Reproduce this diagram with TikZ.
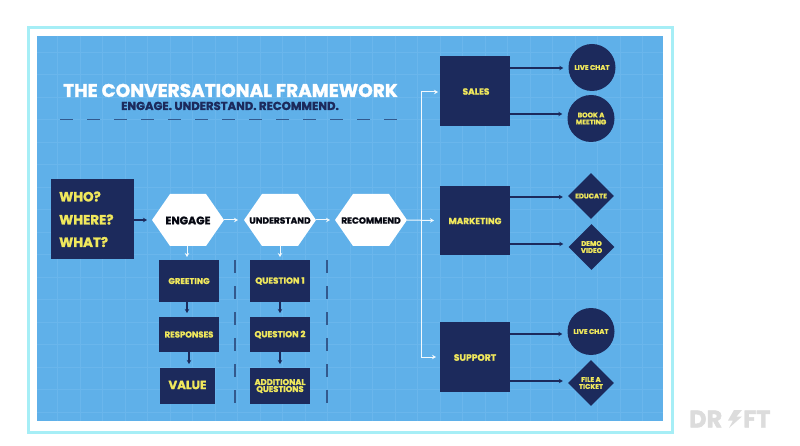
\documentclass[tikz,border=0pt]{standalone}
\usepackage{fontspec}
\setmainfont{Poppins}[BoldFeatures={FakeBold=1.6}]
\usetikzlibrary{shapes.geometric,arrows.meta}
\definecolor{panel}{HTML}{5FB0E9}
\definecolor{gridc}{HTML}{6AB6EC}
\definecolor{navy}{HTML}{1C2A5C}
\definecolor{ylw}{HTML}{F0E85C}
\definecolor{frame}{HTML}{A6EEF6}
\definecolor{logo}{HTML}{DCDCDC}
\newcommand{\fs}[1]{\fontsize{#1}{#1}\selectfont\bfseries}
\tikzset{
  x=1pt,y=-1pt,
  navybox/.style={fill=navy,draw=none,inner sep=0pt,text=ylw,align=center},
  darrow/.style={draw=navy,line width=1.1pt,-{Stealth[length=4pt,width=4.5pt]}},
  warrow/.style={draw=white!92!panel,line width=1pt,-{Stealth[length=4pt,width=4.5pt]}},
  dashv/.style={draw=navy!65!panel,line width=1.2pt,dash pattern=on 13pt off 13pt},
  label/.style={inner sep=0pt,align=center},
}
\newcommand{\boxnode}[6]{\node[navybox,minimum width=#4-#3,minimum height=#6-#5,#1] (#2) at ({(#3+#4)/2},{(#5+#6)/2}) {};}
\begin{document}
\begin{tikzpicture}
\useasboundingbox (0,0) rectangle (800,446);
\fill[white] (0,0) rectangle (800,446);
\draw[frame,line width=2.6pt] (28.5,27.5) rectangle (672.5,432.5);
\fill[panel] (37,36) rectangle (663,421);
\foreach \k in {0,...,26} \draw[gridc,line width=0.6pt] ({57.3+22.5*\k},36) -- ({57.3+22.5*\k},421);
\foreach \k in {0,...,16} \draw[gridc,line width=0.6pt] (37,{52+22.5*\k}) -- (663,{52+22.5*\k});

% title
\node[label,text=white,font=\fs{18.5},anchor=base,text depth=0pt,text height=13pt] (title) at (230.5,97) {THE CONVERSATIONAL FRAMEWORK};
\node[label,text=navy,font=\fs{11.6},anchor=base,text depth=0pt,text height=8.5pt] (sub) at (230,110) {ENGAGE. UNDERSTAND. RECOMMEND.};
\coordinate (dl) at (60,119); \coordinate (dr) at (398,119);
\draw[draw=navy!65!panel,line width=0.8pt,dash pattern=on 13pt off 14pt] (dl) -- (dr);

% who box
\node[navybox,minimum width=83pt,minimum height=80pt] (who) at (92.5,219) {};
\node[label,text=ylw,font=\fs{13.4},anchor=west] (w1) at (59,196.5) {WHO?};
\node[label,text=ylw,font=\fs{13.4},anchor=west] (w2) at (59,219.5) {WHERE?};
\node[label,text=ylw,font=\fs{13.4},anchor=west] (w3) at (59,242) {WHAT?};

% hexagons
\newcommand{\hexnode}[4]{%
  \coordinate (#1-w) at (#2-36,220); \coordinate (#1-e) at (#2+36,220);
  \fill[white] (#2-36,220) -- (#2-18,194) -- (#2+18,194) -- (#2+36,220) -- (#2+18,246) -- (#2-18,246) -- cycle;
  \node[label,text=black!80!navy,font=\fs{#4}] (#1) at (#2,220.5) {#3};
  \coordinate (#1-s) at (#2,246);}
\hexnode{engage}{188}{ENGAGE}{11}
\hexnode{understand}{280}{UNDERSTAND}{9}
\hexnode{recommend}{371}{RECOMMEND}{9}

% stacks
\boxnode{}{greet}{159}{219}{260}{302}
\node[label,text=ylw,font=\fs{8.4}] at (189,281) {GREETING};
\boxnode{}{resp}{159}{219}{317}{352}
\node[label,text=ylw,font=\fs{8.5}] at (189,334.5) {RESPONSES};
\boxnode{}{value}{160}{215}{368}{404}
\node[label,text=ylw,font=\fs{11.9}] at (187.5,385) {VALUE};
\boxnode{}{q1}{250}{310}{260}{302}
\node[label,text=ylw,font=\fs{8.7}] at (280,281) {QUESTION 1};
\boxnode{}{q2}{250}{310}{317}{352}
\node[label,text=ylw,font=\fs{8.7}] at (280,334.5) {QUESTION 2};
\boxnode{}{q3}{250}{310}{368}{404}
\node[label,text=ylw,font=\fontsize{8.3}{7}\selectfont\bfseries] at (280,386) {ADDITIONAL\\QUESTIONS};

% divider dashes
\coordinate (d1t) at (235,260); \coordinate (d1b) at (235,404);
\coordinate (d2t) at (327,260); \coordinate (d2b) at (327,404);
\draw[dashv] (d1t) -- (d1b);
\draw[dashv] (d2t) -- (d2b);

% departments
\boxnode{}{sales}{440}{510}{56}{126}
\node[label,text=ylw,font=\fs{9}] at (476,91.5) {SALES};
\boxnode{}{mkt}{440}{510}{186}{255}
\node[label,text=ylw,font=\fs{8.9}] at (475,221) {MARKETING};
\boxnode{}{sup}{440}{510}{322}{392}
\node[label,text=ylw,font=\fs{9.2}] at (475,357.5) {SUPPORT};

% outcomes
\tikzset{outc/.style={fill=navy,circle,inner sep=0pt,minimum size=47pt,text=ylw,align=center,font=\fontsize{6.9}{7}\selectfont\bfseries},
outd/.style={fill=navy,diamond,aspect=1,inner sep=0pt,minimum size=46pt,text=ylw,align=center,font=\fontsize{6.9}{7}\selectfont\bfseries}}
\node[outc] (live1) at (592,67.5) {LIVE CHAT};
\node[outc] (book) at (591,118.5) {BOOK A\\MEETING};
\node[outd] (edu) at (591,196) {EDUCATE};
\node[outd] (demo) at (591.5,247) {DEMO\\VIDEO};
\node[outc] (live2) at (591,331.5) {LIVE CHAT};
\node[outd] (file) at (591,383) {FILE A\\TICKET};

% connectors
\draw[darrow] (who.east |- 0,220) -- (147,220);
\draw[warrow] (engage-e) -- (238,220);
\draw[warrow] (understand-e) -- (330,220);
\draw[warrow] (recommend-e) -- (434,220.5);
\draw[warrow] (engage-s -| 187,0) -- (187,257);
\draw[warrow] (understand-s) -- (280,257);
\draw[darrow] (greet.south -| 187,0) -- (187,313);
\draw[darrow] (resp.south -| 189,0) -- (189,364);
\draw[darrow] (q1.south) -- (280,313);
\draw[darrow] (q2.south) -- (280,364);
\coordinate (tt) at (421,92); \coordinate (tb) at (421,357);
\draw[warrow,{Stealth[length=4pt,width=4.5pt]}-{Stealth[length=4pt,width=4.5pt]}] (438,92) -- (tt) -- (tb) -- (436,357);
\foreach \s/\t/\y in {sales/live1/68,sales/book/114,mkt/edu/197,mkt/demo/244,sup/live2/334,sup/file/381}
  \draw[darrow,shorten >=5pt] (\s.east |- 0,\y) -- (\t.west |- 0,\y);

% logo
\node[label,text=logo,font=\fontsize{24}{24}\selectfont\bfseries,anchor=west] (dr) at (689,419) {DR};
\fill[logo] (734,410) -- (728,420.5) -- (733,420.5) -- (729,428) -- (742,416.5) -- (736.5,416.5) -- (742,410) -- cycle;
\node[label,text=logo,font=\fontsize{24}{24}\selectfont\bfseries,anchor=west] (ft) at (743,419) {FT};
\end{tikzpicture}
\end{document}
